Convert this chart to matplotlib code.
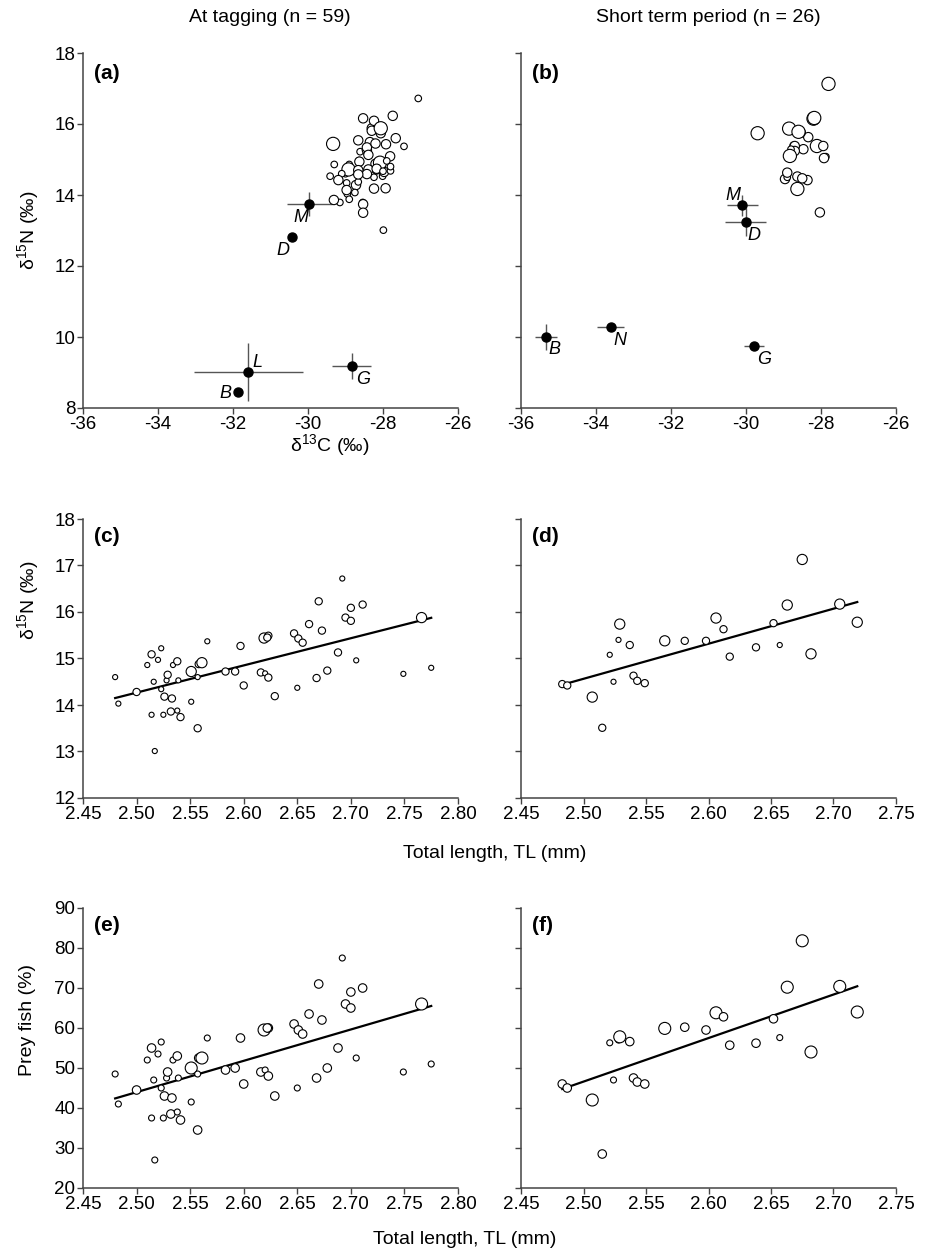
import numpy as np
import matplotlib
matplotlib.use("Agg")
import matplotlib.pyplot as plt

plt.rcParams['font.family'] = ['Liberation Sans', 'DejaVu Sans']
plt.rcParams['mathtext.fontset'] = 'custom'
plt.rcParams['mathtext.rm'] = 'Liberation Sans'
plt.rcParams['mathtext.default'] = 'regular'
plt.rcParams['axes.unicode_minus'] = False

##### DATA #####
# at tagging (n = 59): total length, d15N, d13C, prey fish %, size class
tl_tag = [2.480, 2.483, 2.500, 2.510, 2.514, 2.520, 2.523, 2.516, 2.523, 2.526,
          2.528, 2.529, 2.533, 2.534, 2.538, 2.539, 2.551, 2.557, 2.558, 2.561,
          2.566, 2.514, 2.525, 2.532, 2.538, 2.541, 2.551, 2.557, 2.517, 2.583,
          2.592, 2.597, 2.600, 2.616, 2.620, 2.623, 2.619, 2.623, 2.629, 2.647,
          2.651, 2.655, 2.650, 2.661, 2.670, 2.673, 2.668, 2.678, 2.688, 2.692,
          2.695, 2.700, 2.700, 2.705, 2.711, 2.749, 2.766, 2.775, 2.622]
n15_tag = [14.60, 14.03, 14.28, 14.86, 15.09, 14.97, 15.22, 14.50, 14.34, 14.18,
           14.53, 14.65, 14.14, 14.86, 14.94, 14.53, 14.72, 14.60, 14.88, 14.91,
           15.37, 13.79, 13.79, 13.86, 13.88, 13.74, 14.07, 13.50, 13.01, 14.72,
           14.72, 15.27, 14.42, 14.70, 14.68, 14.59, 15.44, 15.49, 14.19, 15.54,
           15.43, 15.34, 14.37, 15.74, 16.23, 15.60, 14.58, 14.74, 15.13, 16.72,
           15.88, 16.09, 15.81, 14.96, 16.16, 14.67, 15.88, 14.80, 15.45]
c13_tag = [-29.00, -28.95, -28.72, -29.30, -27.81, -28.63, -28.61, -28.24, -28.97, -28.24,
           -28.01, -27.97, -28.97, -28.90, -28.63, -29.41, -28.92, -29.10, -28.20, -28.08,
           -27.44, -28.54, -29.15, -29.31, -28.90, -28.53, -28.75, -28.53, -27.99, -28.17,
           -28.39, -28.43, -29.19, -28.66, -27.80, -28.43, -29.33, -28.35, -27.93, -28.66,
           -27.92, -28.43, -28.66, -28.06, -27.74, -27.66, -28.66, -28.17, -28.39, -27.06,
           -28.30, -28.24, -28.30, -27.90, -28.53, -28.00, -28.06, -27.80, -28.20]
prey_tag = [48.5, 41.0, 44.5, 52.0, 55.0, 53.5, 56.5, 47.0, 45.0, 43.0,
            47.5, 49.0, 42.5, 52.0, 53.0, 47.5, 50.0, 48.5, 52.5, 52.5,
            57.5, 37.5, 37.5, 38.5, 39.0, 37.0, 41.5, 34.5, 27.0, 49.5,
            50.0, 57.5, 46.0, 49.0, 49.5, 48.0, 59.5, 60.0, 43.0, 61.0,
            59.5, 58.5, 45.0, 63.5, 71.0, 62.0, 47.5, 50.0, 55.0, 77.5,
            66.0, 69.0, 65.0, 52.5, 70.0, 49.0, 66.0, 51.0, 60.0]
size_tag = ['s', 's', 'm', 's', 'm', 's', 's', 's', 's', 'm',
            's', 'm', 'm', 's', 'm', 's', 'l', 's', 'm', 'l',
            's', 's', 's', 'm', 's', 'm', 's', 'm', 's', 'm',
            'm', 'm', 'm', 'm', 's', 'm', 'l', 'm', 'm', 'm',
            'm', 'm', 's', 'm', 'm', 'm', 'm', 'm', 'm', 's',
            'm', 'm', 'm', 's', 'm', 's', 'l', 's', 'm']

# short term period (n = 26)
tl_st = [2.483, 2.487, 2.507, 2.515, 2.521, 2.524, 2.528, 2.529, 2.537, 2.540,
         2.543, 2.549, 2.565, 2.581, 2.598, 2.606, 2.612, 2.617, 2.638, 2.652,
         2.657, 2.663, 2.675, 2.682, 2.705, 2.719]
n15_st = [14.45, 14.42, 14.17, 13.51, 15.08, 14.50, 15.40, 15.74, 15.29, 14.63,
          14.52, 14.47, 15.38, 15.38, 15.38, 15.87, 15.63, 15.04, 15.24, 15.76,
          15.29, 16.15, 17.13, 15.10, 16.17, 15.78]
c13_st = [-28.96, -28.36, -28.63, -28.03, -27.87, -28.90, -28.74, -29.69, -28.47, -28.90,
          -28.63, -28.50, -28.11, -27.94, -28.70, -28.85, -28.34, -27.92, -28.70, -28.54,
          -28.80, -28.20, -27.80, -28.83, -28.18, -28.60]
prey_st = [46.0, 45.0, 42.0, 28.5, 56.3, 47.0, 57.0, 57.8, 56.6, 47.5,
           46.5, 46.0, 59.9, 60.2, 59.5, 63.8, 62.8, 55.7, 56.2, 62.3,
           57.6, 70.2, 81.8, 54.0, 70.4, 64.0]
size_st = ['m', 'm', 'l', 'm', 's', 's', 's', 'l', 'm', 'm',
           'm', 'm', 'l', 'm', 'm', 'l', 'm', 'm', 'm', 'm',
           's', 'l', 'l', 'l', 'l', 'l']

# prey sources (mean d13C, d15N, sd d13C, sd d15N)
src_tag_names = ['M', 'D', 'L', 'B', 'G']
src_tag_c13 = [-29.97, -30.42, -31.59, -31.88, -28.84]
src_tag_n15 = [13.75, 12.81, 9.02, 8.46, 9.19]
src_tag_c13_sd = [0.60, 0.0, 1.45, 0.0, 0.52]
src_tag_n15_sd = [0.34, 0.0, 0.81, 0.0, 0.36]
src_tag_lab = [(-30.19, 13.38), (-30.67, 12.45), (-31.36, 9.28), (-32.19, 8.42), (-28.54, 8.81)]

src_st_names = ['M', 'D', 'B', 'N', 'G']
src_st_c13 = [-30.10, -30.01, -35.33, -33.61, -29.78]
src_st_n15 = [13.71, 13.24, 10.01, 10.27, 9.76]
src_st_c13_sd = [0.42, 0.55, 0.30, 0.36, 0.27]
src_st_n15_sd = [0.30, 0.40, 0.37, 0.0, 0.0]
src_st_lab = [(-30.34, 14.00), (-29.79, 12.87), (-35.12, 9.65), (-33.36, 9.89), (-29.52, 9.38)]
##### ENDDATA #####

W, H = 930, 1255
fig = plt.figure(figsize=(W / 100, H / 100), dpi=100)

def box(x0, top, w, h):
    return [x0 / W, 1 - (top + h) / H, w / W, h / H]

axa = fig.add_axes(box(83, 53, 375, 355))
axb = fig.add_axes(box(521, 53, 375, 355))
axc = fig.add_axes(box(83, 519, 375, 279))
axd = fig.add_axes(box(521, 519, 375, 279))
axe = fig.add_axes(box(83, 908, 375, 280))
axf = fig.add_axes(box(521, 908, 375, 280))

diam = {'s': 6.0, 'm': 8.5, 'l': 12.0}   # px

def sizes(codes, k=1.0):
    return [(diam[c] * k * 0.72) ** 2 for c in codes]

def style(ax, letter, labels_y=True):
    for s in ['top', 'right']:
        ax.spines[s].set_visible(False)
    for s in ['left', 'bottom']:
        ax.spines[s].set_color('#444444')
        ax.spines[s].set_linewidth(1.1)
    ax.tick_params(direction='out', length=4, width=1, color='#444444',
                   labelsize=13.5, pad=1.5)
    if not labels_y:
        ax.tick_params(axis='y', labelleft=False)
    ax.text(0.03, 0.97, letter, transform=ax.transAxes, fontsize=15,
            fontweight='bold', va='top', ha='left')

def sources(ax, c13, n15, sc, sn, labs, names):
    for x, y, ex, ey, (lx, ly), nm in zip(c13, n15, sc, sn, labs, names):
        if ex > 0 or ey > 0:
            ax.errorbar(x, y, xerr=ex if ex > 0 else None, yerr=ey if ey > 0 else None,
                        fmt='none', ecolor='#555555', elinewidth=1.0, capsize=0, zorder=2)
        ax.plot(x, y, 'o', color='black', ms=6.5, zorder=3)
        ax.text(lx, ly, nm, style='italic', fontsize=13, ha='center', va='center')

# (a) and (b)
axa.scatter(c13_tag, n15_tag, s=sizes(size_tag, 1.1), facecolor='white',
            edgecolor='black', linewidth=0.8, zorder=4)
sources(axa, src_tag_c13, src_tag_n15, src_tag_c13_sd, src_tag_n15_sd, src_tag_lab, src_tag_names)
axb.scatter(c13_st, n15_st, s=sizes(size_st, 1.1), facecolor='white',
            edgecolor='black', linewidth=0.8, zorder=4)
sources(axb, src_st_c13, src_st_n15, src_st_c13_sd, src_st_n15_sd, src_st_lab, src_st_names)
for ax, let, lab in [(axa, '(a)', True), (axb, '(b)', False)]:
    ax.set_xlim(-36, -26)
    ax.set_ylim(8, 18)
    ax.set_xticks(np.arange(-36, -25, 2))
    ax.set_yticks(np.arange(8, 19, 2))
    style(ax, let, lab)

# (c)-(f)
def reg(ax, x, y):
    k, b = np.polyfit(x, y, 1)
    xs = np.array([min(x), max(x)])
    ax.plot(xs, k * xs + b, color='black', lw=1.6, zorder=3)

panels = [(axc, tl_tag, n15_tag, size_tag, 0.85, '(c)', True),
          (axd, tl_st, n15_st, size_st, 0.85, '(d)', False),
          (axe, tl_tag, prey_tag, size_tag, 1.0, '(e)', True),
          (axf, tl_st, prey_st, size_st, 1.0, '(f)', False)]
for ax, x, y, sz, k, let, lab in panels:
    ax.scatter(x, y, s=sizes(sz, k), facecolor='white', edgecolor='black',
               linewidth=0.8, zorder=4)
    reg(ax, x, y)
    style(ax, let, lab)

for ax in (axc, axe):
    ax.set_xlim(2.45, 2.80)
    ax.set_xticks(np.arange(2.45, 2.801, 0.05))
for ax in (axd, axf):
    ax.set_xlim(2.45, 2.75)
    ax.set_xticks(np.arange(2.45, 2.751, 0.05))
for ax in (axc, axd):
    ax.set_ylim(12, 18)
    ax.set_yticks(range(12, 19))
for ax in (axe, axf):
    ax.set_ylim(20, 90)
    ax.set_yticks(range(20, 91, 10))
for ax in (axc, axd, axe, axf):
    ax.xaxis.set_major_formatter(matplotlib.ticker.FormatStrFormatter('%.2f'))

# labels
fig.text(270 / W, 1 - 18 / H, 'At tagging (n = 59)', ha='center', va='center', fontsize=14)
fig.text(708 / W, 1 - 18 / H, 'Short term period (n = 26)', ha='center', va='center', fontsize=14)
fig.text(0.355, 1 - 445 / H, 'δ$^{13}$C (‰)', ha='center', va='center', fontsize=14)
fig.text(0.532, 1 - 853 / H, 'Total length, TL (mm)', ha='center', va='center', fontsize=14)
fig.text(0.5, 1 - 1240 / H, 'Total length, TL (mm)', ha='center', va='center', fontsize=14)
fig.text(28 / W, 1 - 230 / H, 'δ$^{15}$N (‰)', rotation=90, ha='center', va='center', fontsize=14)
fig.text(28 / W, 1 - 600 / H, 'δ$^{15}$N (‰)', rotation=90, ha='center', va='center', fontsize=14)
fig.text(28 / W, 1 - 1020 / H, 'Prey fish (%)', rotation=90, ha='center', va='center', fontsize=14)

fig.savefig('out.png', dpi=100)
